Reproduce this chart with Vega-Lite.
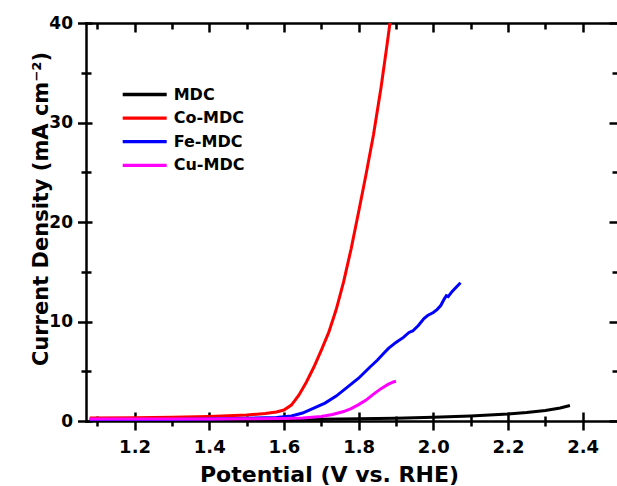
{
  "$schema": "https://vega.github.io/schema/vega-lite/v6.json",
  "autosize": {"type": "none"},
  "padding": {"left": 86, "top": 23, "right": 0, "bottom": 65},
  "width": 531,
  "height": 398,
  "background": "white",
  "config": {
    "view": {"stroke": null},
    "font": "DejaVu Sans",
    "axis": {
      "grid": false,
      "domainColor": "black",
      "tickColor": "black",
      "domainWidth": 2.5,
      "tickWidth": 2.5,
      "domainCap": "square",
      "labelFont": "DejaVu Sans",
      "labelFontWeight": "bold",
      "labelColor": "black",
      "titleFont": "DejaVu Sans",
      "titleFontWeight": "bold",
      "titleColor": "black"
    }
  },
  "data": {
    "values": [
      {"series": "MDC", "V": 1.08, "J": 0.12},
      {"series": "MDC", "V": 1.2, "J": 0.12},
      {"series": "MDC", "V": 1.3, "J": 0.12},
      {"series": "MDC", "V": 1.4, "J": 0.13},
      {"series": "MDC", "V": 1.5, "J": 0.14},
      {"series": "MDC", "V": 1.6, "J": 0.15},
      {"series": "MDC", "V": 1.7, "J": 0.18},
      {"series": "MDC", "V": 1.8, "J": 0.22},
      {"series": "MDC", "V": 1.9, "J": 0.28},
      {"series": "MDC", "V": 2.0, "J": 0.38},
      {"series": "MDC", "V": 2.1, "J": 0.5},
      {"series": "MDC", "V": 2.2, "J": 0.7},
      {"series": "MDC", "V": 2.25, "J": 0.85},
      {"series": "MDC", "V": 2.3, "J": 1.05},
      {"series": "MDC", "V": 2.34, "J": 1.3},
      {"series": "MDC", "V": 2.366, "J": 1.55},
      {"series": "Co-MDC", "V": 1.08, "J": 0.3},
      {"series": "Co-MDC", "V": 1.2, "J": 0.33},
      {"series": "Co-MDC", "V": 1.3, "J": 0.38},
      {"series": "Co-MDC", "V": 1.4, "J": 0.45},
      {"series": "Co-MDC", "V": 1.5, "J": 0.6},
      {"series": "Co-MDC", "V": 1.55, "J": 0.75},
      {"series": "Co-MDC", "V": 1.58, "J": 0.9},
      {"series": "Co-MDC", "V": 1.6, "J": 1.1},
      {"series": "Co-MDC", "V": 1.62, "J": 1.6},
      {"series": "Co-MDC", "V": 1.64, "J": 2.6},
      {"series": "Co-MDC", "V": 1.66, "J": 3.9},
      {"series": "Co-MDC", "V": 1.68, "J": 5.4},
      {"series": "Co-MDC", "V": 1.7, "J": 7.1},
      {"series": "Co-MDC", "V": 1.72, "J": 8.9},
      {"series": "Co-MDC", "V": 1.74, "J": 11.2},
      {"series": "Co-MDC", "V": 1.76, "J": 14.0},
      {"series": "Co-MDC", "V": 1.78, "J": 17.3},
      {"series": "Co-MDC", "V": 1.8, "J": 21.0},
      {"series": "Co-MDC", "V": 1.82, "J": 24.8},
      {"series": "Co-MDC", "V": 1.84, "J": 28.8},
      {"series": "Co-MDC", "V": 1.86, "J": 33.5},
      {"series": "Co-MDC", "V": 1.875, "J": 37.5},
      {"series": "Co-MDC", "V": 1.884, "J": 40},
      {"series": "Fe-MDC", "V": 1.08, "J": 0.1},
      {"series": "Fe-MDC", "V": 1.2, "J": 0.12},
      {"series": "Fe-MDC", "V": 1.3, "J": 0.15},
      {"series": "Fe-MDC", "V": 1.4, "J": 0.2},
      {"series": "Fe-MDC", "V": 1.5, "J": 0.27},
      {"series": "Fe-MDC", "V": 1.58, "J": 0.35},
      {"series": "Fe-MDC", "V": 1.62, "J": 0.5},
      {"series": "Fe-MDC", "V": 1.65, "J": 0.8},
      {"series": "Fe-MDC", "V": 1.68, "J": 1.3},
      {"series": "Fe-MDC", "V": 1.71, "J": 1.8},
      {"series": "Fe-MDC", "V": 1.74, "J": 2.5},
      {"series": "Fe-MDC", "V": 1.77, "J": 3.4},
      {"series": "Fe-MDC", "V": 1.8, "J": 4.3},
      {"series": "Fe-MDC", "V": 1.83, "J": 5.4},
      {"series": "Fe-MDC", "V": 1.85, "J": 6.1},
      {"series": "Fe-MDC", "V": 1.87, "J": 6.9},
      {"series": "Fe-MDC", "V": 1.88, "J": 7.3},
      {"series": "Fe-MDC", "V": 1.9, "J": 7.9},
      {"series": "Fe-MDC", "V": 1.92, "J": 8.4},
      {"series": "Fe-MDC", "V": 1.935, "J": 8.9},
      {"series": "Fe-MDC", "V": 1.945, "J": 9.05},
      {"series": "Fe-MDC", "V": 1.96, "J": 9.6},
      {"series": "Fe-MDC", "V": 1.975, "J": 10.3},
      {"series": "Fe-MDC", "V": 1.985, "J": 10.6},
      {"series": "Fe-MDC", "V": 2.0, "J": 10.9},
      {"series": "Fe-MDC", "V": 2.01, "J": 11.2},
      {"series": "Fe-MDC", "V": 2.02, "J": 11.6},
      {"series": "Fe-MDC", "V": 2.03, "J": 12.3},
      {"series": "Fe-MDC", "V": 2.035, "J": 12.6},
      {"series": "Fe-MDC", "V": 2.04, "J": 12.5},
      {"series": "Fe-MDC", "V": 2.05, "J": 13.0},
      {"series": "Fe-MDC", "V": 2.06, "J": 13.4},
      {"series": "Fe-MDC", "V": 2.073, "J": 13.9},
      {"series": "Cu-MDC", "V": 1.08, "J": 0.2},
      {"series": "Cu-MDC", "V": 1.2, "J": 0.2},
      {"series": "Cu-MDC", "V": 1.3, "J": 0.2},
      {"series": "Cu-MDC", "V": 1.4, "J": 0.2},
      {"series": "Cu-MDC", "V": 1.5, "J": 0.22},
      {"series": "Cu-MDC", "V": 1.6, "J": 0.25},
      {"series": "Cu-MDC", "V": 1.65, "J": 0.3},
      {"series": "Cu-MDC", "V": 1.7, "J": 0.45},
      {"series": "Cu-MDC", "V": 1.73, "J": 0.65},
      {"series": "Cu-MDC", "V": 1.76, "J": 0.95},
      {"series": "Cu-MDC", "V": 1.78, "J": 1.25},
      {"series": "Cu-MDC", "V": 1.8, "J": 1.65},
      {"series": "Cu-MDC", "V": 1.82, "J": 2.1},
      {"series": "Cu-MDC", "V": 1.84, "J": 2.7},
      {"series": "Cu-MDC", "V": 1.86, "J": 3.25},
      {"series": "Cu-MDC", "V": 1.88, "J": 3.7},
      {"series": "Cu-MDC", "V": 1.895, "J": 3.95},
      {"series": "Cu-MDC", "V": 1.9, "J": 4.0}
    ]
  },
  "layer": [
    {
      "mark": {"type": "line", "strokeWidth": 3, "clip": true},
      "encoding": {
        "x": {
          "field": "V", "type": "quantitative",
          "scale": {"domain": [1.07, 2.492], "nice": false, "zero": false},
          "axis": {
            "orient": "bottom",
            "values": [1.1, 1.2, 1.3, 1.4, 1.5, 1.6, 1.7, 1.8, 1.9, 2.0, 2.1, 2.2, 2.3, 2.4],
            "format": ".1f",
            "labelExpr": "round(datum.value*10) % 2 === 0 ? datum.label : ''",
            "tickSize": {"condition": {"test": "round(datum.value*10) % 2 === 0", "value": 9}, "value": 5},
            "labelFontSize": 18,
            "labelBaseline": "alphabetic",
            "labelPadding": 22.8,
            "title": "Potential (V vs. RHE)",
            "titleFontSize": 22,
            "titleX": 243,
            "titleY": 60,
            "titleAlign": "center",
            "titleBaseline": "alphabetic"
          }
        },
        "y": {
          "field": "J", "type": "quantitative",
          "scale": {"domain": [0, 40], "nice": false},
          "axis": {
            "orient": "left",
            "values": [0, 5, 10, 15, 20, 25, 30, 35, 40],
            "labelExpr": "datum.value % 10 === 0 ? datum.label : ''",
            "tickSize": {"condition": {"test": "datum.value % 10 === 0", "value": 8.5}, "value": 5},
            "labelFontSize": 17,
            "labelPadding": 5,
            "title": "Current Density (mA cm⁻²)",
            "titleFontSize": 21,
            "titleX": -39,
            "titleY": 185.5,
            "titleAngle": 270,
            "titleAlign": "center",
            "titleBaseline": "alphabetic"
          }
        },
        "color": {
          "field": "series", "type": "nominal",
          "scale": {"domain": ["MDC", "Co-MDC", "Fe-MDC", "Cu-MDC"], "range": ["#000000", "#ff0000", "#0000ff", "#ff00ff"]},
          "legend": {
            "orient": "none",
            "legendX": 50.7,
            "legendY": 63.5,
            "title": null,
            "padding": 0,
            "symbolType": "M-4,0H4",
            "symbolSize": 121,
            "symbolStrokeWidth": 3.3,
            "labelFont": "DejaVu Sans",
            "labelFontWeight": "bold",
            "labelFontSize": 16,
            "labelColor": "black",
            "labelOffset": 21,
            "rowPadding": 7.6
          }
        }
      }
    },
    {
      "mark": {"type": "line", "opacity": 0},
      "encoding": {
        "x": {
          "field": "V", "type": "quantitative",
          "axis": {
            "orient": "top",
            "values": [1.1, 1.2, 1.3, 1.4, 1.5, 1.6, 1.7, 1.8, 1.9, 2.0, 2.1, 2.2, 2.3, 2.4],
            "labels": false,
            "title": null,
            "tickSize": {"condition": {"test": "round(datum.value*10) % 2 === 0", "value": -9}, "value": -6}
          }
        },
        "y": {
          "field": "J", "type": "quantitative",
          "axis": {
            "orient": "right",
            "values": [0, 5, 10, 15, 20, 25, 30, 35, 40],
            "labels": false,
            "title": null,
            "domain": false,
            "tickSize": {"condition": {"test": "datum.value % 10 === 0", "value": -8}, "value": -5}
          }
        },
        "detail": {"field": "series"}
      }
    },
    {
      "mark": {"type": "line", "opacity": 0},
      "encoding": {
        "x": {
          "field": "V", "type": "quantitative",
          "axis": {
            "orient": "bottom",
            "values": [1.1, 1.2, 1.3, 1.4, 1.5, 1.6, 1.7, 1.8, 1.9, 2.0, 2.1, 2.2, 2.3, 2.4],
            "labels": false,
            "title": null,
            "domain": false,
            "tickSize": {"condition": {"test": "round(datum.value*10) % 2 === 0", "value": -9}, "value": -5}
          }
        },
        "y": {
          "field": "J", "type": "quantitative",
          "axis": {
            "orient": "left",
            "values": [0, 5, 10, 15, 20, 25, 30, 35, 40],
            "labels": false,
            "title": null,
            "domain": false,
            "tickSize": {"condition": {"test": "datum.value % 10 === 0", "value": -6}, "value": -5}
          }
        },
        "detail": {"field": "series"}
      }
    }
  ],
  "resolve": {"axis": {"x": "independent", "y": "independent"}}
}
